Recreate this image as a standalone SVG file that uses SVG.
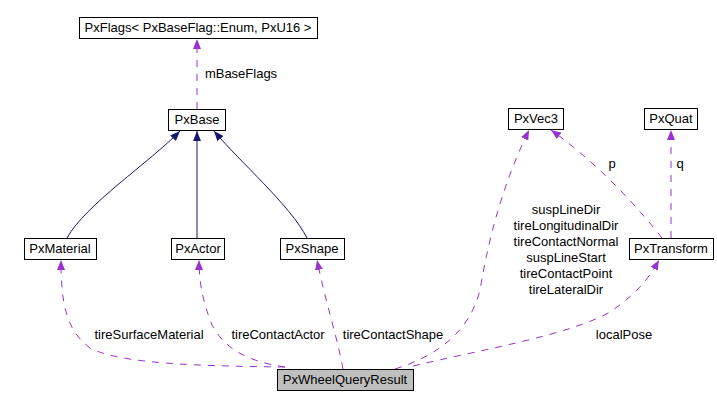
<svg xmlns="http://www.w3.org/2000/svg" width="717" height="407" viewBox="0 0 717 407">
<style>
.box{fill:#ffffff;stroke:#000000;stroke-width:1}
.cur{fill:#bfbfbf;stroke:#000000;stroke-width:1}
.t{font-family:"Liberation Sans",Arial,sans-serif;font-size:13px;fill:#000000;text-anchor:middle}
.inh{fill:none;stroke:#191970;stroke-width:1}
.use{fill:none;stroke:#9a32cd;stroke-width:1;stroke-dasharray:7,7}
</style>
<defs>
<marker id="an" viewBox="0 0 10 8" refX="10" refY="4" markerWidth="10" markerHeight="8" markerUnits="userSpaceOnUse" orient="auto">
<path d="M0,0 L10,4 L0,8 Z" fill="#191970"/>
</marker>
<marker id="ap" viewBox="0 0 10 8" refX="10" refY="4" markerWidth="10" markerHeight="8" markerUnits="userSpaceOnUse" orient="auto">
<path d="M0,0 L10,4 L0,8 Z" fill="#9a32cd"/>
</marker>
</defs>
<g id="edges">
<path class="use" d="M197,109 L197,39" marker-end="url(#ap)"/>
<path class="inh" d="M67,238 C85,205 150,162 180,131" marker-end="url(#an)"/>
<path class="inh" d="M197,238 L197,131" marker-end="url(#an)"/>
<path class="inh" d="M307,238 C290,205 240,162 214,131" marker-end="url(#an)"/>
<path class="use" d="M285,367 C200,366 120,364 90,348 C65,330 61,300 61,260" marker-end="url(#ap)"/>
<path class="use" d="M285,367 C250,362 225,350 212,325 C202,300 199,280 199,260" marker-end="url(#ap)"/>
<path class="use" d="M343,369 C338,340 325,300 317,260" marker-end="url(#ap)"/>
<path class="use" d="M395,369 C440,355 470,330 480,290 C490,230 505,180 529,130" marker-end="url(#ap)"/>
<path class="use" d="M413,366 C480,350 570,335 610,312 C635,295 648,280 659,260" marker-end="url(#ap)"/>
<path class="use" d="M662,238 C640,210 600,165 551,130" marker-end="url(#ap)"/>
<path class="use" d="M671,238 L671,130" marker-end="url(#ap)"/>
</g>
<g id="labels">
<text class="t" x="241" y="78">mBaseFlags</text>
<text class="t" x="612" y="168">p</text>
<text class="t" x="680" y="168">q</text>
<text class="t" x="566" y="214">suspLineDir</text>
<text class="t" x="566" y="230">tireLongitudinalDir</text>
<text class="t" x="566" y="246">tireContactNormal</text>
<text class="t" x="566" y="262">suspLineStart</text>
<text class="t" x="566" y="278">tireContactPoint</text>
<text class="t" x="566" y="294">tireLateralDir</text>
<text class="t" x="149" y="339">tireSurfaceMaterial</text>
<text class="t" x="278" y="339">tireContactActor</text>
<text class="t" x="393" y="339">tireContactShape</text>
<text class="t" x="624" y="339">localPose</text>
</g>
<g id="PxFlags"><rect class="box" x="79.5" y="17.5" width="238" height="21"/><text class="t" x="198" y="32">PxFlags&lt; PxBaseFlag::Enum, PxU16 &gt;</text></g>
<g id="PxBase"><rect class="box" x="168.5" y="109.5" width="57" height="21"/><text class="t" x="197" y="124">PxBase</text></g>
<g id="PxMaterial"><rect class="box" x="24.5" y="238.5" width="72" height="21"/><text class="t" x="60" y="253">PxMaterial</text></g>
<g id="PxActor"><rect class="box" x="171.5" y="238.5" width="53" height="21"/><text class="t" x="198" y="253">PxActor</text></g>
<g id="PxShape"><rect class="box" x="280.5" y="238.5" width="64" height="21"/><text class="t" x="312" y="253">PxShape</text></g>
<g id="PxVec3"><rect class="box" x="508.5" y="108.5" width="55" height="21"/><text class="t" x="536" y="123">PxVec3</text></g>
<g id="PxQuat"><rect class="box" x="644.5" y="108.5" width="53" height="21"/><text class="t" x="671" y="123">PxQuat</text></g>
<g id="PxTransform"><rect class="box" x="629.5" y="238.5" width="84" height="21"/><text class="t" x="671" y="253">PxTransform</text></g>
<g id="PxWheelQueryResult"><rect class="cur" x="277.5" y="369.5" width="136" height="21"/><text class="t" x="345" y="384">PxWheelQueryResult</text></g>
</svg>
